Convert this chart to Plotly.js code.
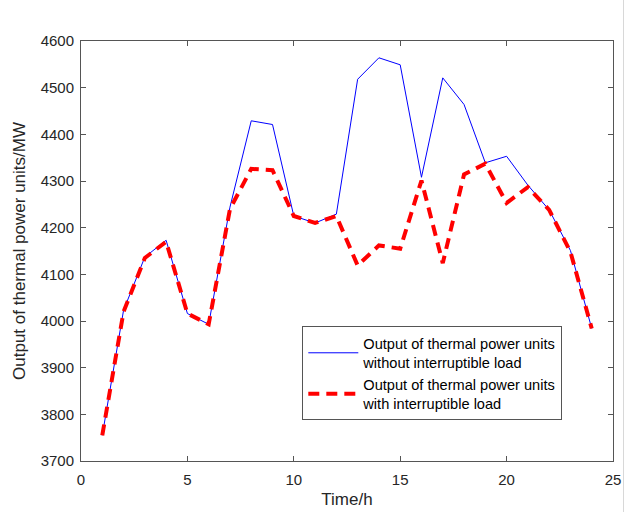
<!DOCTYPE html>
<html>
<head>
<meta charset="utf-8">
<script src="https://cdn.plot.ly/plotly-3.0.1.min.js"></script>
<style>body{margin:0;padding:0;background:#fff;} #chart{width:630px;height:512px;}</style>
</head>
<body>
<div id="chart"></div>
<script>
const hours = [1,2,3,4,5,6,7,8,9,10,11,12,13,14,15,16,17,18,19,20,21,22,23,24];
const withoutIL = [3755,4023,4137,4173,4016,3993,4244,4429,4421,4225,4210,4229,4518,4564,4549,4308,4521,4464,4339,4353,4291,4238,4151,3984];
const withIL = [3755,4020,4135,4170,4016,3993,4240,4326,4323,4225,4210,4225,4119,4162,4155,4301,4124,4314,4337,4253,4287,4238,4148,3984];
const seriesNames = ["Output of thermal power units<br>without interruptible load", "Output of thermal power units<br>with interruptible load"];
const xTicks = [0,5,10,15,20,25];
const yTicks = [3700,3800,3900,4000,4100,4200,4300,4400,4500,4600];

const axisColor = '#262626';
const fontFam = 'Arial, "Liberation Sans", Helvetica, sans-serif';

const traces = [
  {x: hours, y: withoutIL, type: 'scatter', mode: 'lines', name: seriesNames[0],
   line: {color: '#0000ff', width: 1}},
  {x: hours, y: withIL, type: 'scatter', mode: 'lines', name: seriesNames[1],
   line: {color: '#ff0000', width: 4, dash: '11px,7px'}}
];

const layout = {
  width: 630, height: 512,
  margin: {l: 81, r: 17, t: 41, b: 51, pad: 0},
  paper_bgcolor: '#fff', plot_bgcolor: '#fff',
  font: {family: fontFam, size: 15, color: axisColor},
  showlegend: true,
  legend: {x: 0.416, y: 0.3207, xanchor: 'left', yanchor: 'top',
    bordercolor: '#555', borderwidth: 1, bgcolor: '#fff',
    font: {family: fontFam, size: 14.6, color: '#000'}, itemwidth: 50, tracegroupgap: 0},
  xaxis: {range: [0, 25], tickvals: xTicks, ticktext: xTicks.map(String),
    showgrid: false, zeroline: false, showline: true, mirror: 'ticks',
    linecolor: '#555', linewidth: 1, ticks: 'inside', ticklen: 5, tickcolor: '#555',
    tickfont: {size: 15, color: axisColor}, ticklabelstandoff: 5,
    title: {text: 'Time/h', font: {size: 17, color: axisColor}, standoff: 6}},
  yaxis: {range: [3700, 4600], tickvals: yTicks, ticktext: yTicks.map(String),
    showgrid: false, zeroline: false, showline: true, mirror: 'ticks',
    linecolor: '#555', linewidth: 1, ticks: 'inside', ticklen: 5, tickcolor: '#555',
    tickfont: {size: 15, color: axisColor}, ticklabelstandoff: 3,
    title: {text: 'Output of thermal power units/MW', font: {size: 17, color: axisColor}, standoff: 10}},
  shapes: [
    {type: 'line', xref: 'paper', yref: 'paper', x0: (623.5-81)/532, x1: (623.5-81)/532, y0: -51/420, y1: 1 + 41/420,
     line: {color: '#d8d8d8', width: 1}}
  ]
};

Plotly.newPlot('chart', traces, layout, {displayModeBar: false, staticPlot: true});
</script>
</body>
</html>
